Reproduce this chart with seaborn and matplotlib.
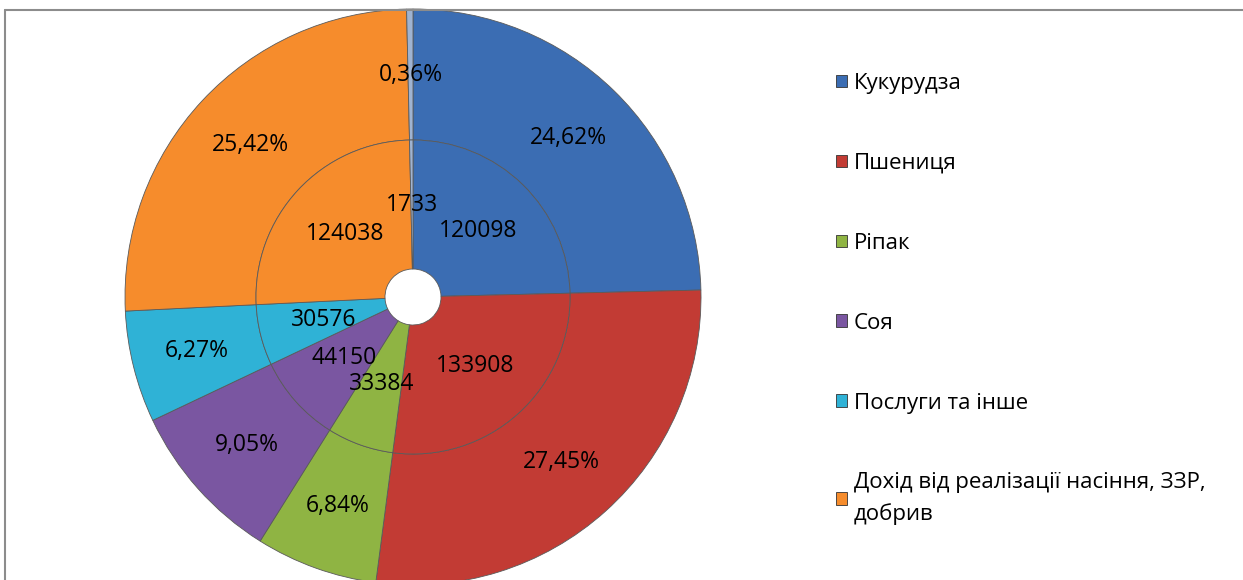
import numpy as np
import seaborn as sns
import matplotlib.pyplot as plt
from matplotlib.patches import Patch
from matplotlib.lines import Line2D

# income structure: same values on both rings
categories = ['Кукурудза', 'Пшениця', 'Ріпак', 'Соя', 'Послуги та інше',
              'Дохід від реалізації насіння, ЗЗР,\nдобрив', '']
values = [120098, 133908, 33384, 44150, 30576, 124038, 1733]
colors = ['#3b6db3', '#c23b34', '#8fb443', '#7a56a1', '#2fb2d6', '#f68c2c', '#9fb3d1']

sns.set_theme(style='white')
plt.rcParams['font.family'] = ['Open Sans', 'DejaVu Sans']

fig = plt.figure(figsize=(12.43, 5.8), dpi=100)
ax = fig.add_axes([0, 0, 1, 1])

cx, cy = 413, 283
r_out, r_mid, r_in = 288, 157, 28

wedge_kw = dict(edgecolor='#5a5a5a', linewidth=0.6)
txt_kw = dict(fontsize=16.5, color='black')

# outer ring: percentages
w1, t1, a1 = ax.pie(values, radius=r_out, center=(cx, cy), colors=colors,
                    startangle=90, counterclock=False,
                    wedgeprops=dict(width=r_out - r_mid, **wedge_kw),
                    autopct=lambda p: f'{p:.2f}'.replace('.', ',') + '%',
                    pctdistance=(r_mid + r_out) / 2 / r_out, textprops=txt_kw)

# inner ring: absolute values
w2, t2, a2 = ax.pie(values, radius=r_mid, center=(cx, cy), colors=colors,
                    startangle=90, counterclock=False,
                    wedgeprops=dict(width=r_mid - r_in, **wedge_kw),
                    autopct='%1.0f',
                    pctdistance=(r_in + r_mid) / 2 / r_mid, textprops=txt_kw)
for t, v in zip(a2, values):
    t.set_text(str(v))

ax.set_xlim(0, 1243)
ax.set_ylim(0, 580)
ax.axis('off')

handles = [Patch(facecolor=c, edgecolor='#333333', linewidth=0.6) for c in colors[:6]]
leg = fig.legend(handles, categories[:6], loc='upper left',
                 bbox_to_anchor=(836 / 1243, 1 - 73 / 580), frameon=False,
                 fontsize=16, labelspacing=2.65, handlelength=0.5, handleheight=0.5,
                 handletextpad=0.3, borderpad=0, borderaxespad=0, labelcolor='black')
leg.get_texts()[5].set_linespacing(1.55)

# chart frame (top and left edges visible)
fig.add_artist(Line2D([5 / 1243, 1], [1 - 10 / 580, 1 - 10 / 580],
                      transform=fig.transFigure, color='#8c8c8c', linewidth=1.5))
fig.add_artist(Line2D([5 / 1243, 5 / 1243], [0, 1 - 10 / 580],
                      transform=fig.transFigure, color='#8c8c8c', linewidth=1.5))

fig.savefig('out.png', dpi=100)
